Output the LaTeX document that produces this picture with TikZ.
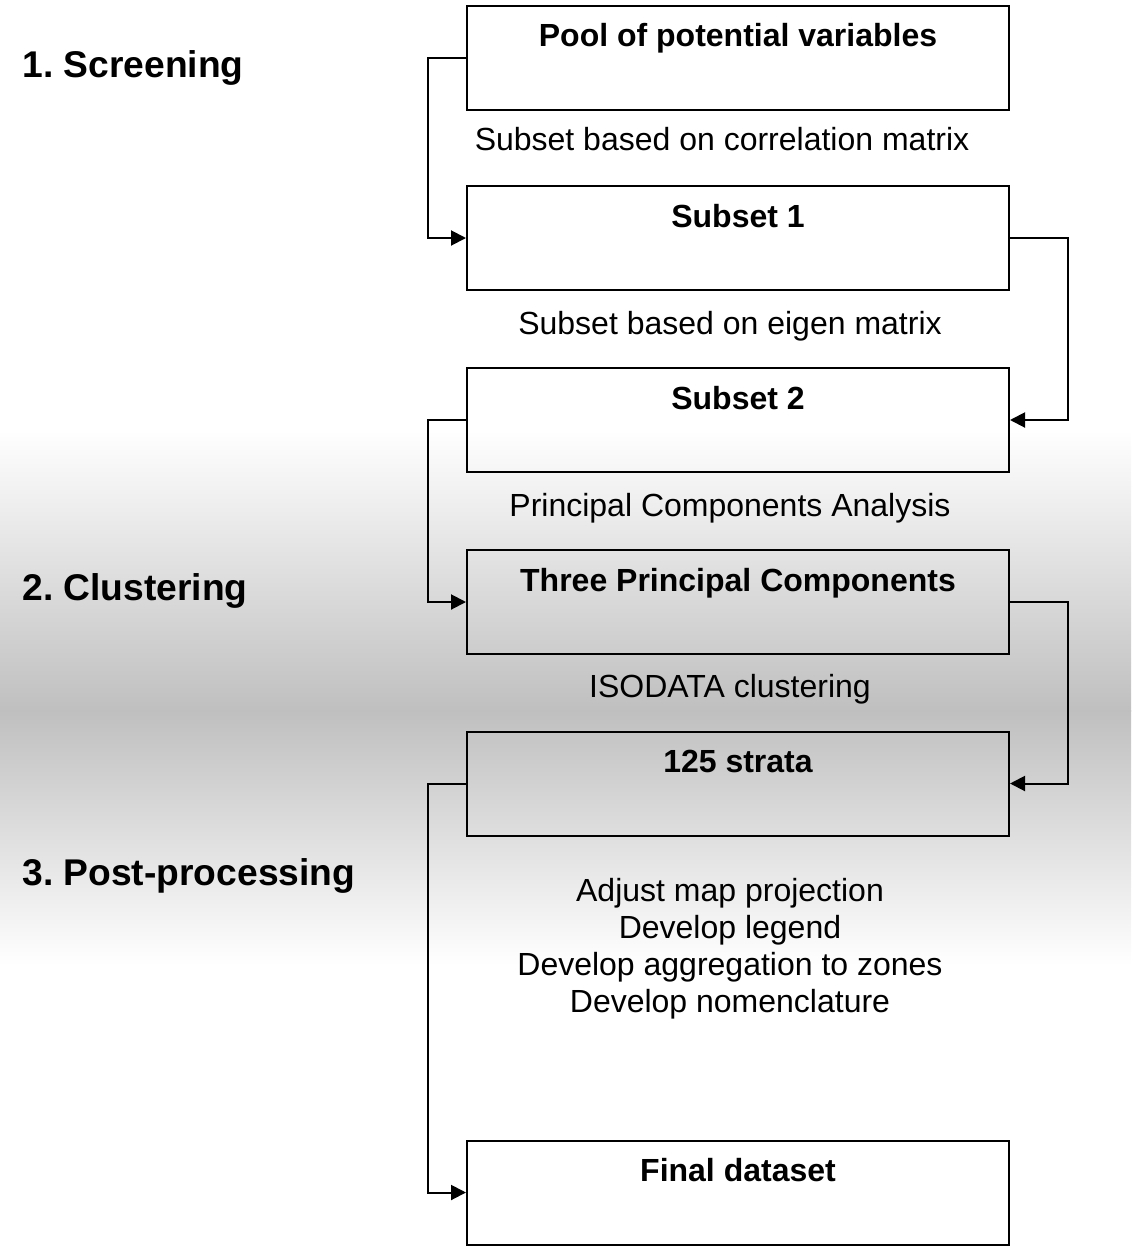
\documentclass[tikz,border=0pt]{standalone}
\usepackage{fontspec}
\setmainfont{Liberation Sans}
\usetikzlibrary{arrows.meta, calc, positioning}
\definecolor{bandgray}{gray}{0.75}

\begin{document}
\frenchspacing
\begin{tikzpicture}[x=0.5pt, y=-0.5pt, >={Triangle[length=7.5pt,width=7.5pt]},
	font=\fontsize{16pt}{18.5pt}\selectfont,
	stepbox/.style={draw, line width=1pt, minimum width=271pt, minimum height=52pt, inner sep=0pt},
	boxtitle/.style={font=\fontsize{16pt}{18.5pt}\selectfont\bfseries, anchor=base, yshift=-21.2pt},
	phase/.style={font=\fontsize{18.6pt}{22pt}\selectfont\bfseries, anchor=base west, inner sep=0pt},
	stepnote/.style={anchor=base},
	link/.style={->, line width=1pt}]
	% frame and grey band
	\useasboundingbox (0,0) rectangle (1131,1248);
	\shade[top color=white, bottom color=bandgray] (0,430) rectangle (1131,711);
	\shade[top color=bandgray, bottom color=white] (0,710) rectangle (1131,965);

	% phases
	\node[phase] (screen) at (22,77) {1. Screening};
	\node[phase] (cluster) at (22,600) {2. Clustering};
	\node[phase] (post) at (22,885) {3. Post-processing};

	% boxes
	\node[stepbox, label={[boxtitle]north:Pool of potential variables}] (pool) at (738,57.5) {};
	\node[stepbox, label={[boxtitle]north:Subset 1}] (sub1) at (738,238) {};
	\node[stepbox, label={[boxtitle]north:Subset 2}] (sub2) at (738,420) {};
	\node[stepbox, label={[boxtitle]north:Three Principal Components}] (pcs) at (738,602) {};
	\node[stepbox, label={[boxtitle]north:125 strata}] (strata) at (738,783.5) {};
	\node[stepbox, label={[boxtitle]north:Final dataset}] (final) at (738,1192.5) {};

	% notes between the boxes (base of the last line for the block)
	\node[stepnote] (corr) at (722,150) {Subset based on correlation matrix};
	\node[stepnote] (eigen) at (730,334) {Subset based on eigen matrix};
	\node[stepnote] (pca) at (730,516) {Principal Components Analysis};
	\node[stepnote] (iso) at (730,697) {ISODATA clustering};
	\node[stepnote, align=center] (postnote) at (730,1012) {Adjust map projection\\Develop legend\\Develop aggregation to zones\\Develop nomenclature};

	% connectors
	\draw[link] (pool.west) -- ++(-38,0) |- (sub1.west);
	\draw[link] (sub1.east) -- ++(58,0) |- (sub2.east);
	\draw[link] (sub2.west) -- ++(-38,0) |- (pcs.west);
	\draw[link] (pcs.east) -- ++(58,0) |- (strata.east);
	\draw[link] (strata.west) -- ++(-38,0) |- (final.west);
\end{tikzpicture}
\end{document}
